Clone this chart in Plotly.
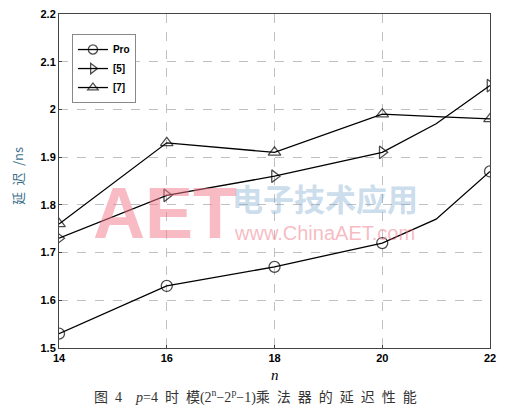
import plotly.graph_objects as go

# -----------------------
# Data
# -----------------------

n = [14, 16, 18, 20, 21, 22]

pro = [1.53, 1.63, 1.67, 1.72, 1.77, 1.87]
ref5 = [1.73, 1.82, 1.86, 1.91, 1.97, 2.05]
ref7 = [1.76, 1.93, 1.91, 1.99, 1.985, 1.98]

x_ticks = [14, 16, 18, 20, 22]
y_ticks = [1.5, 1.6, 1.7, 1.8, 1.9, 2.0, 2.1, 2.2]
y_tick_text = ["1.5", "1.6", "1.7", "1.8", "1.9", "2", "2.1", "2.2"]

# markers only on even n
msize = [11 if v % 2 == 0 else 0 for v in n]

fig = go.Figure()

for name, vals, sym in [("Pro", pro, "circle-open"),
                        ("[5]", ref5, "triangle-right-open"),
                        ("[7]", ref7, "triangle-up-open")]:
    fig.add_trace(go.Scatter(
        x=n, y=vals, name=name,
        mode="lines+markers",
        line=dict(color="black", width=1.3),
        marker=dict(symbol=sym, size=msize, color="black",
                    line=dict(color="black", width=1.3))
    ))

axis_font = dict(family="Liberation Sans", size=11, color="black", weight="bold")

# the page body adds 8px, so the figure is a bit smaller than the window
fig.update_layout(
    width=504, height=408,
    margin=dict(l=51, r=22, t=6, b=68, autoexpand=False),
    plot_bgcolor="white",
    paper_bgcolor="white",
    showlegend=True,
    legend=dict(x=0.03, y=0.94, xanchor="left", yanchor="top",
                bordercolor="#888888", borderwidth=1, bgcolor="white",
                font=dict(family="Liberation Sans", size=10, color="black", weight="bold"),
                tracegroupgap=0, itemwidth=30),
    xaxis=dict(range=[14, 22], tickvals=x_ticks, tickfont=axis_font,
               showgrid=True, gridcolor="#c0c0c0", griddash="dash",
               showline=True, linecolor="#444444", mirror=True,
               ticks="inside", ticklen=3, zeroline=False,
               ticklabeloverflow="allow"),
    yaxis=dict(range=[1.5, 2.2], tickvals=y_ticks, ticktext=y_tick_text,
               tickfont=axis_font,
               showgrid=True, gridcolor="#c0c0c0", griddash="dash",
               showline=True, linecolor="#444444", mirror=True,
               ticks="inside", ticklen=3, zeroline=False,
               ticklabeloverflow="allow"),
)

# watermark
fig.add_annotation(text="<b>AET</b>", x=0.245, y=0.405, xref="paper", yref="paper",
                   xanchor="center", yanchor="middle", showarrow=False,
                   font=dict(family="Liberation Sans", size=72,
                             color="rgba(242,120,135,0.5)"))
fig.add_annotation(text="电子技术应用", x=0.617, y=0.45, xref="paper", yref="paper",
                   xanchor="center", yanchor="middle", showarrow=False,
                   font=dict(family="Noto Sans CJK SC", size=31, weight="bold",
                             color="rgba(120,165,205,0.4)"))
fig.add_annotation(text="www.ChinaAET.com", x=0.617, y=0.345, xref="paper", yref="paper",
                   xanchor="center", yanchor="middle", showarrow=False,
                   font=dict(family="Liberation Sans", size=20,
                             color="rgba(240,120,135,0.5)"))

# axis titles and caption
fig.add_annotation(text="延\u2002迟\u2002/ns", x=-0.095, y=0.515, xref="paper", yref="paper",
                   xanchor="center", yanchor="middle", showarrow=False, textangle=-90,
                   font=dict(family="Noto Sans CJK SC", size=13, color="#3d6f8c"))
fig.add_annotation(text="<i>n</i>", x=0.5, y=-0.082, xref="paper", yref="paper",
                   xanchor="center", yanchor="middle", showarrow=False,
                   font=dict(family="Liberation Serif", size=15, color="black"))
fig.add_annotation(
    text="图\u20024\u2003<i>p</i>=4\u2002时\u2002模(2<sup>n</sup>−2<sup>p</sup>−1)"
         "乘\u2002法\u2002器\u2002的\u2002延\u2002迟\u2002性\u2002能",
    x=0.455, y=-0.145, xref="paper", yref="paper",
    xanchor="center", yanchor="middle", showarrow=False,
    font=dict(family="Liberation Serif, Noto Sans CJK SC", size=14, color="#333333"))

fig.write_html("out.html")
